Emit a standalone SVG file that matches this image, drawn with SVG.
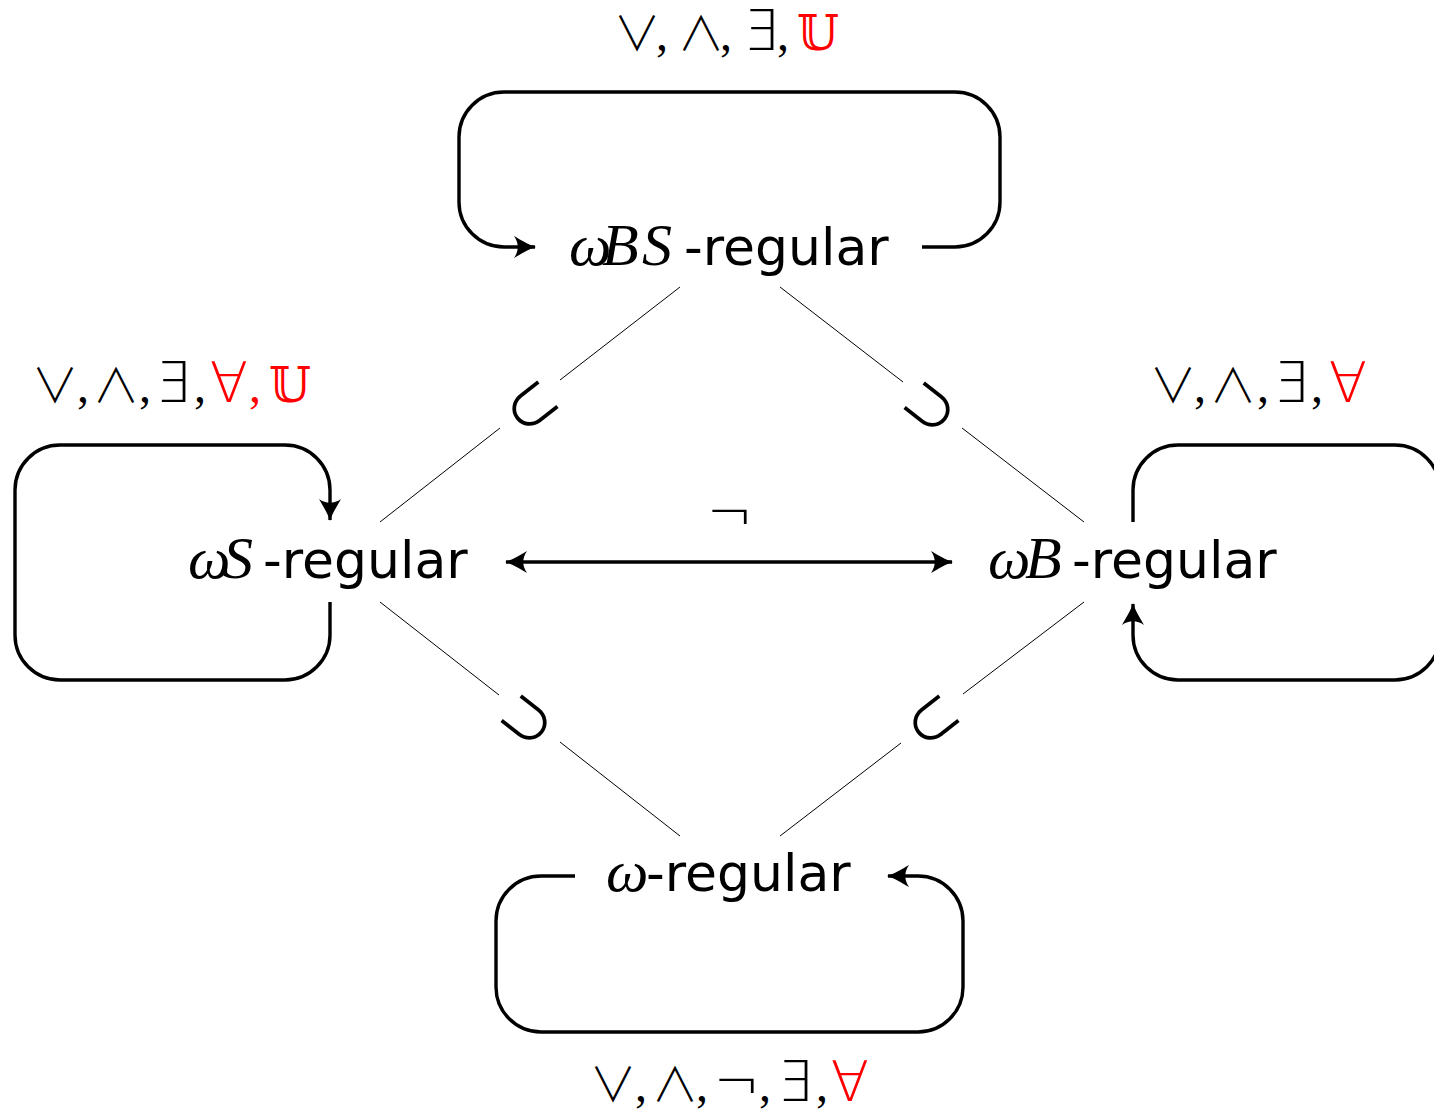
<svg xmlns="http://www.w3.org/2000/svg" width="1434" height="1113" viewBox="0 0 1434 1113">
<style>
.bg{fill:#ffffff}
.loop{fill:none;stroke:#000;stroke-width:3.4;stroke-linejoin:round}
.thin{fill:none;stroke:#000;stroke-width:1}
.arr{fill:none;stroke:#000;stroke-width:3.4}
.name{font-family:"DejaVu Sans",sans-serif;font-size:52px;fill:#000}
.math{font-family:"Liberation Serif","DejaVu Serif",serif;font-style:italic;font-size:60px}
.ops{font-family:"DejaVu Sans",sans-serif;font-weight:200;font-size:56px;fill:#000;text-anchor:middle}
.vw{font-family:"Noto Sans CJK JP",sans-serif;font-weight:300;font-size:47px}
.cm{font-family:"Liberation Serif",serif;font-weight:400;font-size:48px}
.bb{font-family:"DejaVu Serif","DejaVu Sans",serif;font-weight:400;font-size:48px}
.red{fill:#ff0000}
.sub{font-family:"Noto Sans CJK JP",sans-serif;font-weight:400;font-size:54px;fill:#000;text-anchor:middle;dominant-baseline:central}
</style>
<defs>
<marker id="ah" markerUnits="userSpaceOnUse" viewBox="-24 -13 28 26" refX="0" refY="0" markerWidth="28" markerHeight="26" orient="auto-start-reverse">
<path d="M 1 0 C -6 -2 -14 -7 -21 -11 C -16 -4 -16 4 -21 11 C -14 7 -6 2 1 0 Z" fill="#000"/>
</marker>
</defs>
<rect class="bg" x="0" y="0" width="1434" height="1113"/>

<g id="connectors">
<line class="thin" x1="680" y1="287" x2="560" y2="380"/>
<line class="thin" x1="500" y1="428" x2="380" y2="522"/>
<line class="thin" x1="780" y1="287" x2="903" y2="382"/>
<line class="thin" x1="962" y1="428" x2="1084" y2="522"/>
<line class="thin" x1="380" y1="602" x2="499" y2="695"/>
<line class="thin" x1="560" y1="742" x2="680" y2="836"/>
<line class="thin" x1="1084" y1="602" x2="963" y2="694"/>
<line class="thin" x1="901" y1="743" x2="780" y2="836"/>
<text class="sub" transform="translate(530,404) rotate(-38)">⊂</text>
<text class="sub" transform="translate(932,405) rotate(38)">⊃</text>
<text class="sub" transform="translate(529,718) rotate(38)">⊃</text>
<text class="sub" transform="translate(931,718) rotate(-38)">⊂</text>
<line class="arr" x1="506" y1="562" x2="952" y2="562" marker-start="url(#ah)" marker-end="url(#ah)"/>
<text class="ops" x="730" y="532">¬</text>
<path class="loop" d="M 922 247 L 955 247 A 45 45 0 0 0 1000 202 L 1000 137 A 45 45 0 0 0 955 92 L 504 92 A 45 45 0 0 0 459 137 L 459 202 A 45 45 0 0 0 504 247 L 535 247" marker-end="url(#ah)"/>
<path class="loop" d="M 330 602 L 330 635 A 45 45 0 0 1 285 680 L 60 680 A 45 45 0 0 1 15 635 L 15 490 A 45 45 0 0 1 60 445 L 285 445 A 45 45 0 0 1 330 490 L 330 520" marker-end="url(#ah)"/>
<path class="loop" d="M 1133 522 L 1133 490 A 45 45 0 0 1 1178 445 L 1395 445 A 45 45 0 0 1 1440 490 L 1440 635 A 45 45 0 0 1 1395 680 L 1178 680 A 45 45 0 0 1 1133 635 L 1133 604" marker-end="url(#ah)"/>
<path class="loop" d="M 575 876 L 541 876 A 45 45 0 0 0 496 921 L 496 987 A 45 45 0 0 0 541 1032 L 918 1032 A 45 45 0 0 0 963 987 L 963 921 A 45 45 0 0 0 918 876 L 888 876" marker-end="url(#ah)"/>
</g>

<g id="node-wBS">
<text class="name" y="265"><tspan class="math" x="569">ω</tspan><tspan class="math" x="602">B</tspan><tspan class="math" x="642">S</tspan><tspan x="684">-regular</tspan></text>
<text class="ops" y="50"><tspan class="vw" x="637">∨</tspan><tspan class="cm" x="662">,</tspan><tspan class="vw" x="701">∧</tspan><tspan class="cm" x="726">,</tspan><tspan x="761">∃</tspan><tspan class="cm" x="783">,</tspan><tspan class="bb red" x="818">𝕌</tspan></text>
</g>

<g id="node-wS">
<text class="name" y="578"><tspan class="math" x="188">ω</tspan><tspan class="math" x="223">S</tspan><tspan x="263">-regular</tspan></text>
<text class="ops" y="402"><tspan class="vw" x="55">∨</tspan><tspan class="cm" x="83">,</tspan><tspan class="vw" x="116">∧</tspan><tspan class="cm" x="145">,</tspan><tspan x="173">∃</tspan><tspan class="cm" x="200">,</tspan><tspan class="red" x="229">∀</tspan><tspan class="cm red" x="255">,</tspan><tspan class="bb red" x="290">𝕌</tspan></text>
</g>

<g id="node-wB">
<text class="name" y="578"><tspan class="math" x="988">ω</tspan><tspan class="math" x="1025">B</tspan><tspan x="1072">-regular</tspan></text>
<text class="ops" y="402"><tspan class="vw" x="1173">∨</tspan><tspan class="cm" x="1200">,</tspan><tspan class="vw" x="1233">∧</tspan><tspan class="cm" x="1263">,</tspan><tspan x="1291">∃</tspan><tspan class="cm" x="1317">,</tspan><tspan class="red" x="1348">∀</tspan></text>
</g>

<g id="node-w">
<text class="name" y="891"><tspan class="math" x="606">ω</tspan><tspan x="646">-regular</tspan></text>
<text class="ops" y="1101"><tspan class="vw" x="613">∨</tspan><tspan class="cm" x="641">,</tspan><tspan class="vw" x="675">∧</tspan><tspan class="cm" x="702">,</tspan><tspan x="737">¬</tspan><tspan class="cm" x="765">,</tspan><tspan x="795">∃</tspan><tspan class="cm" x="822">,</tspan><tspan class="red" x="850">∀</tspan></text>
</g>
</svg>
